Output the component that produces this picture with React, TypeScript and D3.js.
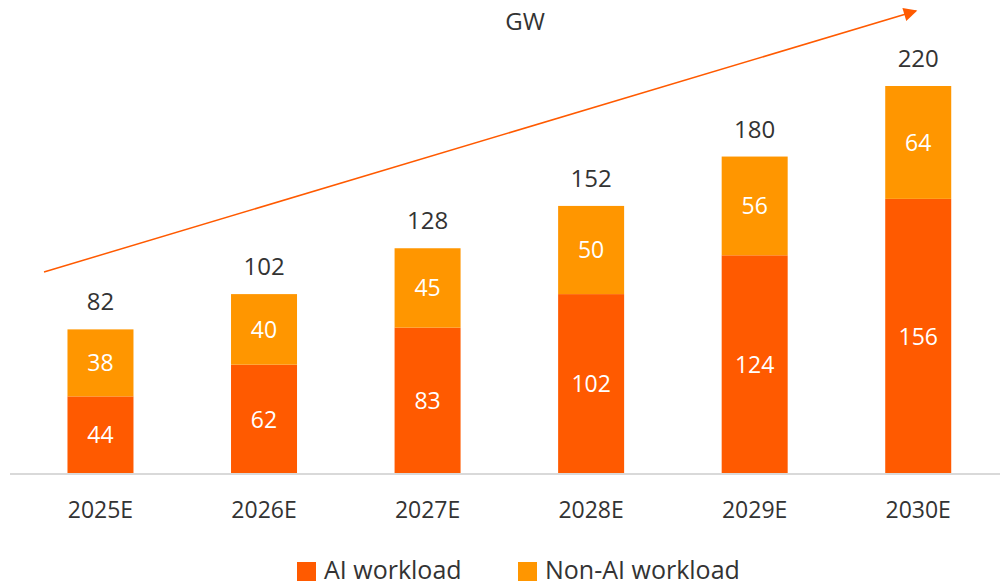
import React from "react";
import * as d3 from "d3";

const years = ["2025E", "2026E", "2027E", "2028E", "2029E", "2030E"];
const aiWorkload = [44, 62, 83, 102, 124, 156];
const nonAiWorkload = [38, 40, 45, 50, 56, 64];
const totals = [82, 102, 128, 152, 180, 220];

const AI_COLOR = "#ff5a00";
const NON_AI_COLOR = "#ff9600";
const TEXT = "#333333";
const FONT = "'Open Sans', sans-serif";

function App() {
  const width = 1000;
  const height = 586;

  const x = d3.scaleBand().domain(years).range([18.7, 1000]).padding(0);
  const barW = 66;
  const y = d3.scaleLinear().domain([0, 220]).range([474, 86]);

  const rows = years.map((yr, i) => ({
    yr,
    ai: aiWorkload[i],
    non: nonAiWorkload[i],
    total: totals[i],
  }));
  const stack = d3.stack<any>().keys(["ai", "non"])(rows);
  const colors = [AI_COLOR, NON_AI_COLOR];

  const cx = (yr: string) => (x(yr) as number) + x.bandwidth() / 2;

  return (
    <svg
      width={width}
      height={height}
      style={{ position: "absolute", left: 0, top: 0, fontFamily: FONT }}
    >
      <defs>
        <marker
          id="arrow"
          viewBox="0 0 10 10"
          refX="9"
          refY="5"
          markerWidth="11"
          markerHeight="9"
          orient="auto"
        >
          <path d="M0,0 L10,5 L0,10 z" fill={AI_COLOR} />
        </marker>
      </defs>

      <text x={525} y={30} textAnchor="middle" fontSize={24} fill={TEXT}>
        GW
      </text>

      <line
        x1={44}
        y1={272}
        x2={916}
        y2={11}
        stroke={AI_COLOR}
        strokeWidth={1.5}
        markerEnd="url(#arrow)"
      />

      {stack.map((layer, li) =>
        layer.map((d) => {
          const yr = d.data.yr;
          const y0 = y(d[0]);
          const y1 = y(d[1]);
          return (
            <g key={yr + li}>
              <rect
                x={cx(yr) - barW / 2}
                y={y1}
                width={barW}
                height={y0 - y1}
                fill={colors[li]}
              />
              <text
                x={cx(yr)}
                y={(y0 + y1) / 2}
                dy="0.36em"
                textAnchor="middle"
                fontSize={23}
                fill="#ffffff"
              >
                {d[1] - d[0]}
              </text>
            </g>
          );
        })
      )}

      {rows.map((r) => (
        <text
          key={r.yr}
          x={cx(r.yr)}
          y={y(r.total) - 19}
          textAnchor="middle"
          fontSize={24}
          fill={TEXT}
        >
          {r.total}
        </text>
      ))}

      <line x1={10} y1={474} x2={1000} y2={474} stroke="#d9d9d9" strokeWidth={2} />

      {years.map((yr) => (
        <text
          key={yr}
          x={cx(yr)}
          y={518}
          textAnchor="middle"
          fontSize={23}
          fill={TEXT}
        >
          {yr}
        </text>
      ))}

      <rect x={297} y={562} width={19} height={19} fill={AI_COLOR} />
      <text x={324} y={579} fontSize={25} fill={TEXT}>
        AI workload
      </text>
      <rect x={518} y={562} width={19} height={19} fill={NON_AI_COLOR} />
      <text x={545} y={579} fontSize={25} fill={TEXT}>
        Non-AI workload
      </text>
    </svg>
  );
}

export default App;
